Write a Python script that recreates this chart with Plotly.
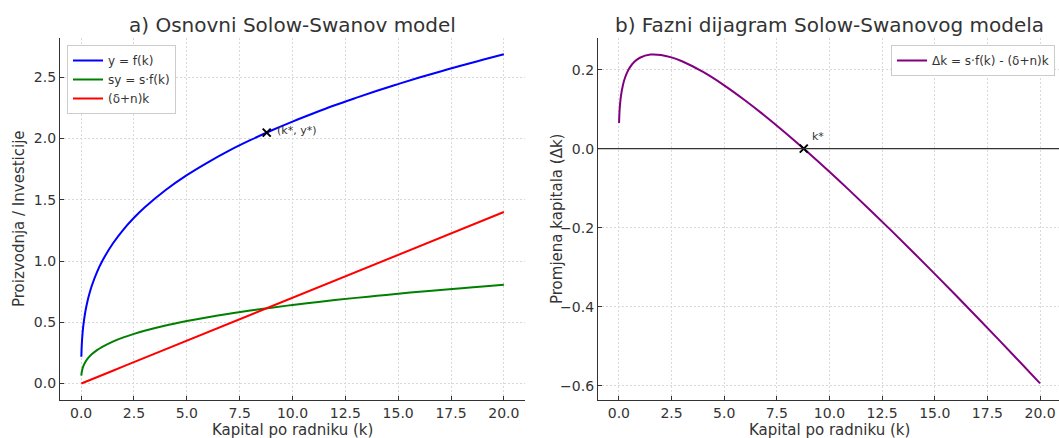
import plotly.graph_objects as go

# Capital per worker (k) sample points
k = [0.01, 0.02, 0.03, 0.05, 0.1, 0.2, 0.3, 0.4, 0.5, 0.75, 1, 1.5, 2, 2.5, 3, 4, 5, 6, 7, 8,
     9, 10, 11, 12, 13, 14, 15, 16, 17, 18, 19, 20]
# y = f(k)
y_out = [0.219, 0.275, 0.314, 0.372, 0.468, 0.588, 0.672, 0.739, 0.796, 0.909, 1.000, 1.143,
         1.257, 1.353, 1.437, 1.580, 1.701, 1.806, 1.901, 1.986, 2.065, 2.138, 2.206, 2.271,
         2.331, 2.389, 2.444, 2.497, 2.547, 2.596, 2.642, 2.687]
# sy = s*f(k)
sy = [0.0656, 0.0825, 0.0943, 0.1116, 0.1403, 0.1764, 0.2016, 0.2217, 0.2387, 0.2728, 0.300,
      0.343, 0.3771, 0.4059, 0.4311, 0.474, 0.5102, 0.5419, 0.5702, 0.5959, 0.6195, 0.6414,
      0.6619, 0.6812, 0.6994, 0.7167, 0.7332, 0.749, 0.7641, 0.7787, 0.7927, 0.8062]
# (delta+n)k
dep = [0.0007, 0.0014, 0.0021, 0.0035, 0.007, 0.014, 0.021, 0.028, 0.035, 0.0525, 0.07, 0.105,
       0.14, 0.175, 0.21, 0.28, 0.35, 0.42, 0.49, 0.56, 0.63, 0.70, 0.77, 0.84, 0.91, 0.98,
       1.05, 1.12, 1.19, 1.26, 1.33, 1.40]
# delta k
dk = [0.0649, 0.0811, 0.0922, 0.1081, 0.1333, 0.1624, 0.1806, 0.1937, 0.2037, 0.2203, 0.230,
      0.238, 0.2371, 0.2309, 0.2211, 0.194, 0.1602, 0.1219, 0.0802, 0.0359, -0.0105, -0.0586,
      -0.1081, -0.1588, -0.2106, -0.2633, -0.3168, -0.371, -0.4259, -0.4813, -0.5373, -0.5938]

k_star = [8.78]
y_star = [2.048]
dk_star = [0.0]

x_ticks = [0, 2.5, 5, 7.5, 10, 12.5, 15, 17.5, 20]
y1_ticks = [0, 0.5, 1.0, 1.5, 2.0, 2.5]
y2_ticks = [-0.6, -0.4, -0.2, 0.0, 0.2]

FONT = "DejaVu Sans"
TXT = "#333333"
W, H = 1059, 438

fig = go.Figure()
fig.add_trace(go.Scatter(x=k, y=y_out, mode="lines", name="y = f(k)", line=dict(color="#0000ff", width=2, shape="spline"), xaxis="x", yaxis="y", legend="legend"))
fig.add_trace(go.Scatter(x=k, y=sy, mode="lines", name="sy = s·f(k)", line=dict(color="#008000", width=2, shape="spline"), xaxis="x", yaxis="y", legend="legend"))
fig.add_trace(go.Scatter(x=k, y=dep, mode="lines", name="(δ+n)k", line=dict(color="#ff0000", width=2), xaxis="x", yaxis="y", legend="legend"))
fig.add_trace(go.Scatter(x=k_star, y=y_star, mode="markers", showlegend=False, marker=dict(symbol="x-thin", size=8, line=dict(color="black", width=2)), xaxis="x", yaxis="y"))

fig.add_trace(go.Scatter(x=k, y=dk, mode="lines", name="Δk = s·f(k) - (δ+n)k", line=dict(color="#800080", width=2, shape="spline"), xaxis="x2", yaxis="y2", legend="legend2"))
fig.add_trace(go.Scatter(x=k_star, y=dk_star, mode="markers", showlegend=False, marker=dict(symbol="x-thin", size=8, line=dict(color="black", width=2)), xaxis="x2", yaxis="y2"))

ydom = [1 - 400 / H, 1 - 38 / H]
axcommon = dict(showline=True, linecolor=TXT, linewidth=1.2, ticks="inside", ticklen=4, tickcolor=TXT,
                tickfont=dict(family=FONT, size=14, color=TXT), showgrid=True, gridcolor="#d9d9d9",
                gridwidth=0.8, griddash="2px,2px", zeroline=False, mirror=False)

fig.update_layout(
    width=W, height=H, margin=dict(l=0, r=0, t=0, b=0), paper_bgcolor="white", plot_bgcolor="white",
    font=dict(family=FONT, color=TXT),
    xaxis=dict(domain=[60 / W, 525 / W], range=[-1.0, 21.0], tickvals=x_ticks, tickformat=".1f", anchor="y", **axcommon),
    yaxis=dict(domain=ydom, range=[-0.134, 2.82], tickvals=y1_ticks, tickformat=".1f", anchor="x", **axcommon),
    xaxis2=dict(domain=[598 / W, 1.0], range=[-0.99, 20.9], tickvals=x_ticks, tickformat=".1f", anchor="y2", **axcommon),
    yaxis2=dict(domain=ydom, range=[-0.636, 0.280], tickvals=y2_ticks, tickformat=".1f", anchor="x2", **axcommon),
    legend=dict(x=67 / W, y=1 - 45 / H, xanchor="left", yanchor="top", bgcolor="white", bordercolor="#cccccc", borderwidth=1,
                font=dict(family=FONT, size=12, color=TXT), itemwidth=30, tracegroupgap=0),
    legend2=dict(x=1055 / W, y=1 - 45 / H, xanchor="right", yanchor="top", bgcolor="white", bordercolor="#cccccc", borderwidth=1,
                 font=dict(family=FONT, size=12, color=TXT), itemwidth=30),
    showlegend=True,
)

fig.add_shape(type="line", xref="x2 domain", yref="y2", x0=0, x1=1, y0=0, y1=0, line=dict(color=TXT, width=1.2))

ann = []
ann.append(dict(text="a) Osnovni Solow-Swanov model", x=(60 + 525) / 2 / W, y=1 - 25 / H, xref="paper", yref="paper",
                xanchor="center", yanchor="middle", showarrow=False, font=dict(family=FONT, size=20, color=TXT)))
ann.append(dict(text="b) Fazni dijagram Solow-Swanovog modela", x=(598 + 1061) / 2 / W, y=1 - 25 / H, xref="paper", yref="paper",
                xanchor="center", yanchor="middle", showarrow=False, font=dict(family=FONT, size=20, color=TXT)))
ann.append(dict(text="Kapital po radniku (k)", x=(60 + 525) / 2 / W, y=1 - 430 / H, xref="paper", yref="paper",
                xanchor="center", yanchor="middle", showarrow=False, font=dict(family=FONT, size=15, color=TXT)))
ann.append(dict(text="Kapital po radniku (k)", x=(598 + 1061) / 2 / W, y=1 - 430 / H, xref="paper", yref="paper",
                xanchor="center", yanchor="middle", showarrow=False, font=dict(family=FONT, size=15, color=TXT)))
ann.append(dict(text="Proizvodnja / Investicije", x=19 / W, y=1 - 219 / H, xref="paper", yref="paper", textangle=-90,
                xanchor="center", yanchor="middle", showarrow=False, font=dict(family=FONT, size=15, color=TXT)))
ann.append(dict(text="Promjena kapitala (Δk)", x=557 / W, y=1 - 219 / H, xref="paper", yref="paper", textangle=-90,
                xanchor="center", yanchor="middle", showarrow=False, font=dict(family=FONT, size=15, color=TXT)))
ann.append(dict(text="(k*, y*)", x=k_star[0], y=y_star[0], xref="x", yref="y", xanchor="left", yanchor="middle",
                xshift=8, yshift=2, showarrow=False, font=dict(family=FONT, size=11, color=TXT)))
ann.append(dict(text="k*", x=k_star[0], y=dk_star[0], xref="x2", yref="y2", xanchor="left", yanchor="middle",
                xshift=6, yshift=12, showarrow=False, font=dict(family=FONT, size=11, color=TXT)))
fig.update_layout(annotations=ann)

fig.write_html("out.html")
